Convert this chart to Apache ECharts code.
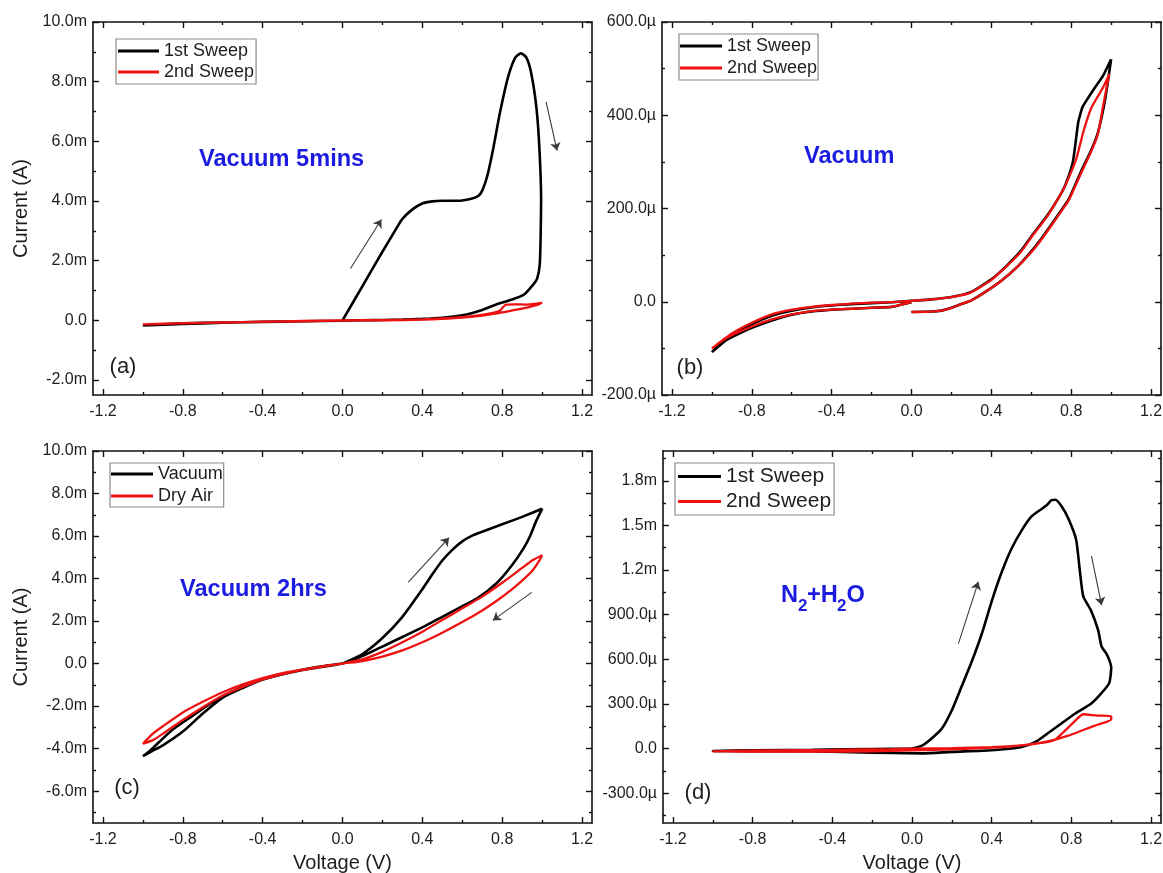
<!DOCTYPE html>
<html>
<head>
<meta charset="utf-8">
<title>I-V sweeps</title>
<script src="https://cdn.jsdelivr.net/npm/echarts@6/dist/echarts.min.js"></script>
<style>
  html, body { margin: 0; padding: 0; background: #ffffff; }
  #chart { width: 1163px; height: 873px; }
</style>
</head>
<body>
<div id="chart"></div>
<script>
// ---------- shared voltage axis ----------
const voltTicks = [-1.2, -0.8, -0.4, 0, 0.4, 0.8, 1.2];
const voltTickLabels = ['-1.2', '-0.8', '-0.4', '0.0', '0.4', '0.8', '1.2'];
const voltMinorTicks = [-1.0, -0.6, -0.2, 0.2, 0.6, 1.0];

// ---------- (a) Vacuum 5mins, current in mA ----------
const aTicks = [-2, 0, 2, 4, 6, 8, 10];
const aTickLabels = ['-2.0m', '0.0', '2.0m', '4.0m', '6.0m', '8.0m', '10.0m'];
const aMinorTicks = [-1, 1, 3, 5, 7, 9];
const aSweep1V = [0, 0.1, 0.2, 0.276, 0.3, 0.35, 0.4, 0.45, 0.5, 0.58, 0.64, 0.68, 0.70, 0.725, 0.754, 0.79, 0.83, 0.865, 0.894, 0.92, 0.945, 0.972, 0.987, 0.995, 0.993, 0.988, 0.975, 0.955, 0.91, 0.85, 0.78, 0.7, 0.6, 0.5, 0.4, 0.3, 0.2, 0.1, 0, -0.2, -0.4, -0.6, -0.8, -1.0, -0.8, -0.6, -0.4, -0.2, 0];
const aSweep1I = [0, 1.15, 2.3, 3.15, 3.4, 3.72, 3.92, 3.99, 4.01, 4.01, 4.07, 4.17, 4.35, 4.83, 5.72, 7.0, 8.17, 8.8, 8.95, 8.82, 8.3, 7.1, 5.7, 4.05, 2.9, 1.85, 1.4, 1.2, 0.87, 0.7, 0.56, 0.35, 0.17, 0.09, 0.05, 0.03, 0.015, 0.005, -0.01, -0.03, -0.05, -0.07, -0.1, -0.17, -0.12, -0.08, -0.05, -0.03, -0.01];
const aSweep2V = [0, 0.2, 0.4, 0.55, 0.65, 0.72, 0.77, 0.79, 0.805, 0.82, 0.86, 0.92, 0.97, 1.0, 0.98, 0.93, 0.87, 0.8, 0.7, 0.6, 0.5, 0.4, 0.2, 0, -0.2, -0.4, -0.6, -0.8, -1.0, -0.8, -0.6, -0.4, -0.2, 0];
const aSweep2I = [0, 0.01, 0.035, 0.08, 0.14, 0.21, 0.28, 0.33, 0.45, 0.53, 0.54, 0.53, 0.56, 0.59, 0.53, 0.44, 0.36, 0.27, 0.16, 0.09, 0.05, 0.025, 0.005, -0.005, -0.03, -0.05, -0.07, -0.095, -0.13, -0.1, -0.07, -0.045, -0.02, 0];
const aArrows = [[[0.04, 1.74], [0.195, 3.38]], [[1.02, 7.32], [1.075, 5.69]]];

// ---------- (b) Vacuum, current in µA ----------
const bTicks = [-200, 0, 200, 400, 600];
const bTickLabels = ['-200.0µ', '0.0', '200.0µ', '400.0µ', '600.0µ'];
const bMinorTicks = [-100, 100, 300, 500];
const bSweep1V = [0, 0.1, 0.15, 0.2, 0.25, 0.3, 0.366, 0.45, 0.535, 0.6, 0.65, 0.7, 0.75, 0.788, 0.85, 0.9, 0.934, 0.97, 1.0, 0.96, 0.92, 0.88, 0.86, 0.853, 0.835, 0.808, 0.77, 0.733, 0.68, 0.6, 0.55, 0.476, 0.4, 0.293, 0.2, 0.1, 0, -0.1, -0.2, -0.3, -0.4, -0.5, -0.6, -0.7, -0.8, -0.9, -1.0, -0.95, -0.9, -0.8, -0.7, -0.6, -0.5, -0.4, -0.3, -0.2, -0.1, -0.05, 0];
const bSweep1I = [-22, -21, -19, -13, -5, 3, 20, 45, 77, 108, 135, 165, 196, 220, 280, 325, 363, 434, 520, 485, 460, 434, 420, 413, 384, 299, 250, 220, 185, 140, 110, 77, 48, 20, 10, 5, 2, -1, -3, -5, -8, -12, -19, -30, -48, -72, -108, -88, -76, -56, -40, -28, -21, -17, -15, -13, -11, -6, -1];
const bSweep2V = [0, 0.1, 0.15, 0.2, 0.25, 0.3, 0.366, 0.45, 0.535, 0.6, 0.65, 0.7, 0.75, 0.788, 0.85, 0.9, 0.934, 0.96, 0.99, 0.96, 0.93, 0.9, 0.88, 0.86, 0.825, 0.77, 0.733, 0.68, 0.6, 0.55, 0.476, 0.4, 0.293, 0.2, 0.1, 0, -0.1, -0.2, -0.3, -0.4, -0.5, -0.6, -0.7, -0.8, -0.9, -1.0, -0.95, -0.9, -0.8, -0.7, -0.6, -0.5, -0.4, -0.3, -0.2, -0.1, -0.05, 0];
const bSweep2I = [-22, -21, -19, -13, -5, 3, 20, 45, 77, 106, 133, 163, 194, 218, 276, 322, 360, 420, 487, 460, 438, 415, 391, 363, 306, 249, 220, 183, 138, 108, 76, 47, 19, 10, 5, 2, -1, -2, -4, -7, -11, -17, -27, -45, -68, -100, -84, -72, -53, -38, -27, -20, -17, -15, -13, -11, -6, -1];

// ---------- (c) Vacuum 2hrs, current in mA ----------
const cTicks = [-6, -4, -2, 0, 2, 4, 6, 8, 10];
const cTickLabels = ['-6.0m', '-4.0m', '-2.0m', '0.0', '2.0m', '4.0m', '6.0m', '8.0m', '10.0m'];
const cMinorTicks = [-7, -5, -3, -1, 1, 3, 5, 7, 9];
const cVacuumV = [0, 0.1, 0.2, 0.3, 0.4, 0.45, 0.5, 0.55, 0.6, 0.65, 0.7, 0.8, 0.9, 1.0, 0.97, 0.94, 0.907, 0.85, 0.773, 0.677, 0.58, 0.5, 0.4, 0.3, 0.2, 0.1, 0, -0.2, -0.4, -0.5, -0.6, -0.7, -0.8, -0.9, -0.95, -1.0, -0.97, -0.92, -0.85, -0.75, -0.65, -0.55, -0.45, -0.3, -0.15, 0];
const cVacuumI = [0, 0.45, 1.2, 2.2, 3.5, 4.2, 4.85, 5.35, 5.75, 6.02, 6.2, 6.55, 6.9, 7.28, 6.7, 6.0, 5.42, 4.64, 3.79, 3.08, 2.6, 2.2, 1.7, 1.25, 0.8, 0.35, 0, -0.3, -0.75, -1.15, -1.6, -2.35, -3.2, -3.85, -4.1, -4.35, -4.15, -3.7, -3.1, -2.45, -1.8, -1.3, -0.9, -0.5, -0.2, 0];
const cDryAirV = [0, 0.1, 0.2, 0.3, 0.4, 0.5, 0.6, 0.7, 0.8, 0.9, 0.95, 1.0, 0.99, 0.95, 0.9, 0.85, 0.78, 0.7, 0.6, 0.5, 0.4, 0.3, 0.2, 0.1, 0, -0.1, -0.2, -0.3, -0.4, -0.5, -0.6, -0.7, -0.8, -0.9, -0.95, -1.0, -0.95, -0.9, -0.8, -0.7, -0.6, -0.5, -0.4, -0.3, -0.2, -0.1, 0];
const cDryAirI = [0, 0.2, 0.55, 1.0, 1.5, 2.05, 2.6, 3.15, 3.8, 4.5, 4.85, 5.1, 4.9, 4.35, 3.9, 3.5, 3.0, 2.5, 1.95, 1.45, 1.0, 0.62, 0.33, 0.12, 0, -0.14, -0.3, -0.5, -0.75, -1.1, -1.5, -2.05, -2.65, -3.3, -3.6, -3.77, -3.3, -2.95, -2.3, -1.8, -1.35, -0.98, -0.68, -0.45, -0.28, -0.12, 0];
const cArrows = [[[0.33, 3.83], [0.534, 5.92]], [[0.948, 3.35], [0.753, 2.03]]];

// ---------- (d) N2+H2O, current in µA ----------
const dTicks = [-300, 0, 300, 600, 900, 1200, 1500, 1800];
const dTickLabels = ['-300.0µ', '0.0', '300.0µ', '600.0µ', '900.0µ', '1.2m', '1.5m', '1.8m'];
const dMinorTicks = [-450, -150, 150, 450, 750, 1050, 1350, 1650, 1950];
const dSweep1V = [0, 0.05, 0.1, 0.15, 0.2, 0.25, 0.3, 0.35, 0.4, 0.45, 0.5, 0.55, 0.6, 0.65, 0.68, 0.7, 0.72, 0.75, 0.787, 0.824, 0.842, 0.86, 0.897, 0.934, 0.952, 0.975, 0.99, 1.0, 0.99, 0.95, 0.9, 0.82, 0.75, 0.68, 0.62, 0.55, 0.4, 0.2, 0.05, -0.1, -0.3, -0.5, -0.8, -1.0, -0.8, -0.5, -0.2, 0];
const dSweep1I = [0, 20, 70, 135, 258, 420, 585, 770, 990, 1185, 1345, 1465, 1560, 1610, 1640, 1670, 1672, 1630, 1540, 1404, 1202, 1022, 933, 798, 685, 640, 596, 545, 440, 371, 303, 236, 169, 101, 45, 11, -11, -22, -32, -30, -24, -18, -17, -16, -12, -8, -3, 0];
const dSweep2V = [0, 0.2, 0.4, 0.55, 0.65, 0.714, 0.76, 0.81, 0.86, 0.93, 1.0, 1.0, 0.93, 0.86, 0.78, 0.714, 0.65, 0.6, 0.5, 0.4, 0.2, 0, -0.2, -0.5, -0.8, -1.0, -0.7, -0.4, -0.1, 0];
const dSweep2I = [0, 3, 10, 22, 38, 56, 110, 175, 231, 222, 218, 196, 160, 125, 85, 58, 40, 30, 15, 6, -5, -12, -18, -20, -20, -18, -12, -8, -3, 0];
const dArrows = [[[0.233, 706], [0.333, 1121]], [[0.901, 1294], [0.952, 964]]];

// ---------- styling ----------
const FONT = '"Liberation Sans", Arial, Helvetica, sans-serif';
const INK = '#1e1e1e';
const AXIS_INK = '#111111';
const BLACK = '#000000';
const RED = '#ee1111';
const BLUE = '#1c1ce0';

const grids = [
  { left: 93, top: 22, width: 499, height: 373 },
  { left: 662, top: 22, width: 499, height: 373 },
  { left: 93, top: 451, width: 499, height: 372 },
  { left: 663, top: 451, width: 498, height: 372 }
];

const panels = [
  { yMin: -2.5, yMax: 10, yTicks: aTicks, yLabels: aTickLabels, yMinor: aMinorTicks, xName: '', yName: 'Current (A)' },
  { yMin: -200, yMax: 600, yTicks: bTicks, yLabels: bTickLabels, yMinor: bMinorTicks, xName: '', yName: '' },
  { yMin: -7.5, yMax: 10, yTicks: cTicks, yLabels: cTickLabels, yMinor: cMinorTicks, xName: 'Voltage (V)', yName: 'Current (A)' },
  { yMin: -500, yMax: 2000, yTicks: dTicks, yLabels: dTickLabels, yMinor: dMinorTicks, xName: 'Voltage (V)', yName: '' }
];

function labelFor(values, labels) {
  return function (v) {
    const i = values.findIndex(t => Math.abs(t - v) < 1e-9);
    return i < 0 ? '' : labels[i];
  };
}
function pairs(xs, ys) { return xs.map((x, i) => [x, ys[i]]); }

// four axes per side pair: labelled main, its minor ticks, mirrored main, mirrored minor
function buildAxes(dim, gi, min, max, major, majorLabels, minor, name) {
  const isX = dim === 'x';
  const common = { type: 'value', gridIndex: gi, min: min, max: max, splitLine: { show: false }, scale: false };
  const line = { show: true, onZero: false, lineStyle: { color: AXIS_INK, width: 1.6 } };
  const noLine = { show: false, onZero: false };
  const tick = (vals, len) => ({ show: true, inside: true, length: len, customValues: vals, lineStyle: { color: AXIS_INK, width: 1.4 } });
  const near = isX ? 'bottom' : 'left';
  const far = isX ? 'top' : 'right';
  return [
    Object.assign({}, common, {
      position: near, axisLine: line, axisTick: tick(major, 6),
      axisLabel: { show: true, customValues: major, formatter: labelFor(major, majorLabels),
                   margin: isX ? 9 : 6, fontSize: 16, fontFamily: FONT, color: INK },
      name: name, nameLocation: 'middle', nameGap: isX ? 30 : 62,
      nameTextStyle: { fontSize: 20, fontFamily: FONT, color: INK }
    }),
    Object.assign({}, common, { position: near, axisLine: noLine, axisTick: tick(minor, 3), axisLabel: { show: false } }),
    Object.assign({}, common, { position: far, axisLine: line, axisTick: tick(major, 6), axisLabel: { show: false } }),
    Object.assign({}, common, { position: far, axisLine: noLine, axisTick: tick(minor, 3), axisLabel: { show: false } })
  ];
}

const xAxes = [], yAxes = [];
panels.forEach((p, gi) => {
  xAxes.push(...buildAxes('x', gi, -1.25, 1.25, voltTicks, voltTickLabels, voltMinorTicks, p.xName));
  yAxes.push(...buildAxes('y', gi, p.yMin, p.yMax, p.yTicks, p.yLabels, p.yMinor, p.yName));
});

function curve(name, color, width, gi, V, I) {
  return {
    type: 'line', name: name, xAxisIndex: gi * 4, yAxisIndex: gi * 4,
    data: pairs(V, I), showSymbol: false, symbol: 'none', smooth: 0.2,
    lineStyle: { color: color, width: width }, itemStyle: { color: color },
    animation: false, silent: true
  };
}
function arrows(gi, list) {
  return {
    type: 'lines', coordinateSystem: 'cartesian2d', xAxisIndex: gi * 4, yAxisIndex: gi * 4,
    data: list.map(seg => ({ coords: seg })),
    symbol: ['none', 'arrow'], symbolSize: 8,
    lineStyle: { color: '#3a3a3a', width: 1.1, opacity: 1 },
    animation: false, silent: true, z: 5
  };
}

const series = [
  curve('1st Sweep', BLACK, 2.6, 0, aSweep1V, aSweep1I),
  curve('2nd Sweep', RED, 2.3, 0, aSweep2V, aSweep2I),
  arrows(0, aArrows),
  curve('1st Sweep', BLACK, 2.6, 1, bSweep1V, bSweep1I),
  curve('2nd Sweep', RED, 2.3, 1, bSweep2V, bSweep2I),
  curve('Vacuum', BLACK, 2.6, 2, cVacuumV, cVacuumI),
  curve('Dry Air', RED, 2.3, 2, cDryAirV, cDryAirI),
  arrows(2, cArrows),
  curve('1st Sweep', BLACK, 2.6, 3, dSweep1V, dSweep1I),
  curve('2nd Sweep', RED, 2.3, 3, dSweep2V, dSweep2I),
  arrows(3, dArrows)
];

function legendBox(names, left, top, padding, itemWidth, itemGap, fontSize) {
  return {
    orient: 'vertical', left: left, top: top, padding: padding,
    itemWidth: itemWidth, itemHeight: 3, itemGap: itemGap, icon: 'rect',
    borderColor: '#8c8c8c', borderWidth: 1.2, backgroundColor: '#ffffff',
    selectedMode: false,
    textStyle: { fontSize: fontSize, lineHeight: fontSize, fontFamily: FONT, color: INK },
    data: names
  };
}

const legends = [
  legendBox(['1st Sweep', '2nd Sweep'], 116, 39, [3, 2, 3, 2], 41, 3, 18),
  legendBox(['1st Sweep', '2nd Sweep'], 679, 34, [3, 1, 3, 1], 42, 4, 18),
  legendBox(['Vacuum', 'Dry Air'], 110, 463, [2, 1, 2, 1], 42, 4, 18),
  legendBox(['1st Sweep', '2nd Sweep'], 675, 463, [3, 3, 3, 3], 43, 4, 21)
];

function text(str, x, y, font, color, align) {
  return { type: 'text', x: x, y: y, silent: true, z: 10,
           style: { text: str, font: font, fill: color, textAlign: align || 'left', textVerticalAlign: 'middle' } };
}
const TITLE_FONT = 'bold 23.6px ' + FONT;
const SUB_FONT = 'bold 17px ' + FONT;
const TAG_FONT = '22px ' + FONT;

const graphics = [
  text('Vacuum 5mins', 199, 159, TITLE_FONT, BLUE),
  text('Vacuum', 804, 156, TITLE_FONT, BLUE),
  text('Vacuum 2hrs', 180, 589, TITLE_FONT, BLUE),
  // N2+H2O with subscripts
  text('N', 781, 595, TITLE_FONT, BLUE),
  text('2', 798, 606.5, SUB_FONT, BLUE),
  text('+H', 807, 595, TITLE_FONT, BLUE),
  text('2', 837, 606.5, SUB_FONT, BLUE),
  text('O', 846.5, 595, TITLE_FONT, BLUE),
  text('(a)', 123, 367, TAG_FONT, INK, 'center'),
  text('(b)', 690, 368, TAG_FONT, INK, 'center'),
  text('(c)', 127, 788, TAG_FONT, INK, 'center'),
  text('(d)', 698, 793, TAG_FONT, INK, 'center')
];

const chart = echarts.init(document.getElementById('chart'), null, { renderer: 'canvas' });
chart.setOption({
  backgroundColor: '#ffffff',
  animation: false,
  grid: grids.map(g => Object.assign({ outerBoundsMode: 'none', containLabel: false }, g)),
  xAxis: xAxes,
  yAxis: yAxes,
  legend: legends,
  series: series,
  graphic: graphics
});
</script>
</body>
</html>
